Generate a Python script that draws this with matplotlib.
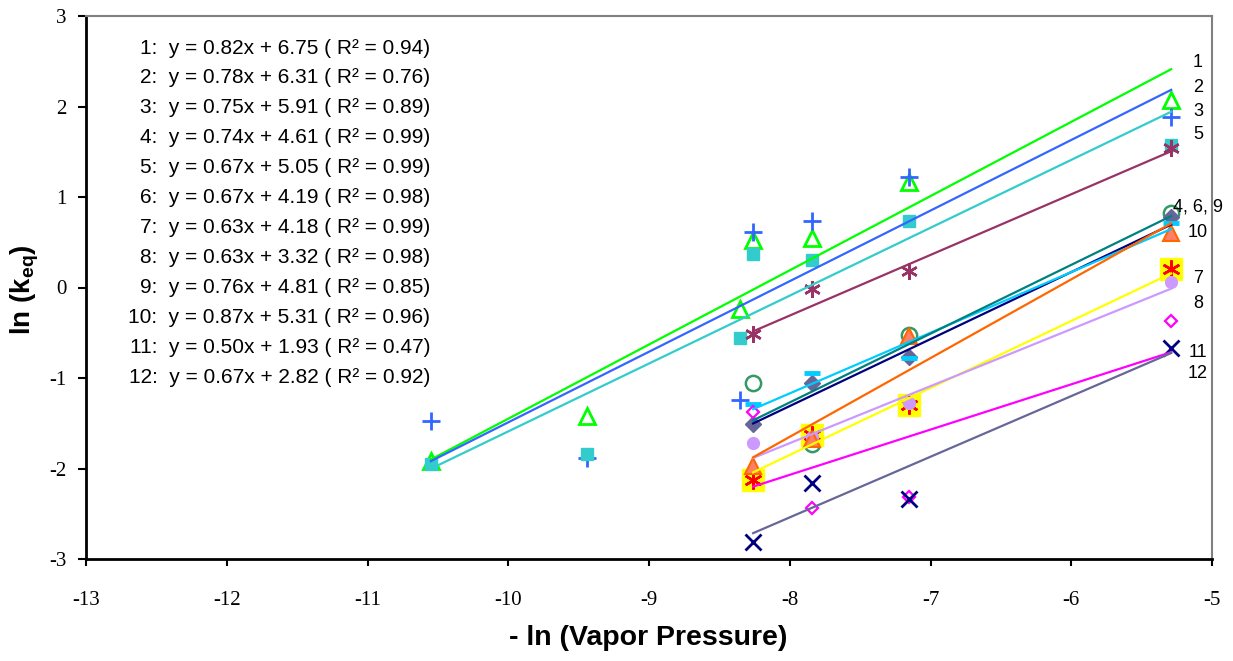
import matplotlib.pyplot as plt

plt.rcParams['axes.unicode_minus'] = False
plt.rcParams['mathtext.fontset'] = 'custom'
plt.rcParams['mathtext.bf'] = 'Liberation Sans:bold'
plt.rcParams['mathtext.rm'] = 'Liberation Sans'

# x positions (- ln vapor pressure)
x_all = [-10.55, -9.44, -8.35, -8.26, -7.84, -7.15, -5.29]
x_four = [-8.26, -7.84, -7.15, -5.29]

# measured ln(keq) for each marker set
y_green_tri = [-1.92, -1.42, -0.24, 0.52, 0.55, 1.17, 2.07]
y_blue_plus = [-1.48, -1.88, -1.24, 0.61, 0.73, 1.22, 1.88]
y_cyan_sq = [-1.95, -1.84, -0.56, 0.37, 0.30, 0.74, 1.57]
y_maroon_star = [-0.51, -0.02, 0.18, 1.54]
y_green_circ = [-1.05, -1.73, -0.53, 0.82]
y_slate_dia = [-1.51, -1.05, -0.77, 0.78]
y_blue_dash = [-1.29, -0.95, -0.78, 0.71]
y_yellow_sq = [-2.13, -1.63, -1.30, 0.20]
y_lav_circ = [-1.72, -1.65, -1.28, 0.06]
y_orange_tri = [-1.97, -1.67, -0.54, 0.60]
y_mag_dia = [-1.38, -2.44, -2.31, -0.37]
y_navy_x = [-2.81, -2.16, -2.34, -0.67]

# trendline equations (label text)
eq_num = [1, 2, 3, 4, 5, 6, 7, 8, 9, 10, 11, 12]
eq_slope = [0.82, 0.78, 0.75, 0.74, 0.67, 0.67, 0.63, 0.63, 0.76, 0.87, 0.50, 0.67]
eq_icpt = [6.75, 6.31, 5.91, 4.61, 5.05, 4.19, 4.18, 3.32, 4.81, 5.31, 1.93, 2.82]
eq_r2 = [0.94, 0.76, 0.89, 0.99, 0.99, 0.98, 0.99, 0.98, 0.85, 0.96, 0.47, 0.92]

# trendlines as drawn
line_slope = [0.82, 0.78, 0.75, 0.74, 0.67, 0.67, 0.74, 0.63, 0.76, 0.87, 0.50, 0.67]
line_icpt = [6.75, 6.31, 5.91, 4.61, 5.05, 4.19, 4.07, 3.32, 4.81, 5.31, 1.93, 2.82]
line_xmin = [-10.55, -10.55, -10.55, -8.26, -8.26, -8.26, -8.26, -8.26, -8.26, -8.26, -8.26, -8.26]
line_xmax = [-5.29] * 12
line_color = ['#00FF00', '#3366FF', '#33CCCC', '#000080', '#993366', '#00CCFF',
              '#FFFF00', '#CC99FF', '#008080', '#FF6600', '#FF00FF', '#666699']

# labels at the right end of the lines
end_labels = ['1', '2', '3', '5', '4, 6, 9', '10', '7', '8', '11', '12']
end_label_y = [2.49, 2.21, 1.95, 1.69, 0.89, 0.61, 0.10, -0.18, -0.72, -0.95]

fig = plt.figure(figsize=(12.33, 6.61), dpi=100)
ax = fig.add_axes([86 / 1233, 1 - 559 / 661, (1212 - 86) / 1233, (559 - 16) / 661])

star = (6, 2, 0)
ax.plot(x_all, y_green_tri, ls='none', marker='^', ms=12, mfc='none', mec='#00FF00', mew=2)
ax.plot(x_all, y_blue_plus, ls='none', marker='+', ms=13, mec='#3366FF', mew=2)
ax.plot(x_all, y_cyan_sq, ls='none', marker='s', ms=8, mfc='#33CCCC', mec='#33CCCC')
ax.plot(x_four, y_maroon_star, ls='none', marker=star, ms=12, mec='#993366', mew=1.8)
ax.plot(x_four, y_green_circ, ls='none', marker='o', ms=11, mfc='none', mec='#339966', mew=1.8)
ax.plot(x_four, y_slate_dia, ls='none', marker='D', ms=8.5, mfc='#666699', mec='#666699')
ax.plot(x_four, y_blue_dash, ls='none', marker='_', ms=11, mec='#00CCFF', mew=3.5)
ax.plot(x_four, y_yellow_sq, ls='none', marker='s', ms=16, mfc='#FFFF00', mec='#FFFF00')
ax.plot(x_four, y_yellow_sq, ls='none', marker=star, ms=13, mec='#FF0000', mew=1.8)
ax.plot(x_four, y_lav_circ, ls='none', marker='o', ms=8.5, mfc='#CC99FF', mec='#CC99FF')
ax.plot(x_four, y_orange_tri, ls='none', marker='^', ms=12, mfc='#FF7F66', mec='#FF6600', mew=1.5)
ax.plot(x_four, y_mag_dia, ls='none', marker='D', ms=6, mfc='none', mec='#FF00FF', mew=1.6)
ax.plot(x_four, y_navy_x, ls='none', marker='x', ms=11, mec='#000080', mew=2)

for i in range(len(line_slope)):
    xs = [line_xmin[i], line_xmax[i]]
    ys = [line_slope[i] * v + line_icpt[i] for v in xs]
    ax.plot(xs, ys, color=line_color[i], lw=1.6, zorder=3)

for lab, yy in zip(end_labels, end_label_y):
    ax.text(-5.10, yy, lab, ha='center', va='center', fontsize=13,
            family='Liberation Sans', clip_on=False)

for i in range(len(eq_num)):
    txt = f"{eq_num[i]}:  y = {eq_slope[i]:.2f}x + {eq_icpt[i]:.2f} ( R² = {eq_r2[i]:.2f})"
    ax.text(-10.555, 2.646 - i * 0.3305, txt, ha='right', va='center',
            fontsize=15, family='Liberation Sans')

ax.set_xlim(-13, -5)
ax.set_ylim(-3, 3)
ax.set_xticks(range(-13, -4))
ax.set_yticks(range(-3, 4))
for lab in ax.get_xticklabels() + ax.get_yticklabels():
    lab.set_family('Liberation Serif')
    lab.set_fontsize(15)
ax.tick_params(axis='y', direction='out', length=6, width=1.5, pad=8)
ax.tick_params(axis='x', direction='out', length=5, width=1.5, pad=18)

for s in ['left', 'bottom']:
    ax.spines[s].set_linewidth(2)
    ax.spines[s].set_color('black')
for s in ['top', 'right']:
    ax.spines[s].set_linewidth(1.5)
    ax.spines[s].set_color('#808080')

fig.text(25 / 1233, 1 - 290 / 661, r'ln (k$_{\mathbf{eq}}$)', rotation=90,
         ha='center', va='center', fontsize=20, fontweight='bold', family='Liberation Sans')
fig.text(648 / 1233, 1 - 638 / 661, '- ln (Vapor Pressure)', ha='center', va='center',
         fontsize=20.5, fontweight='bold', family='Liberation Sans')

fig.savefig('out.png', dpi=100)
